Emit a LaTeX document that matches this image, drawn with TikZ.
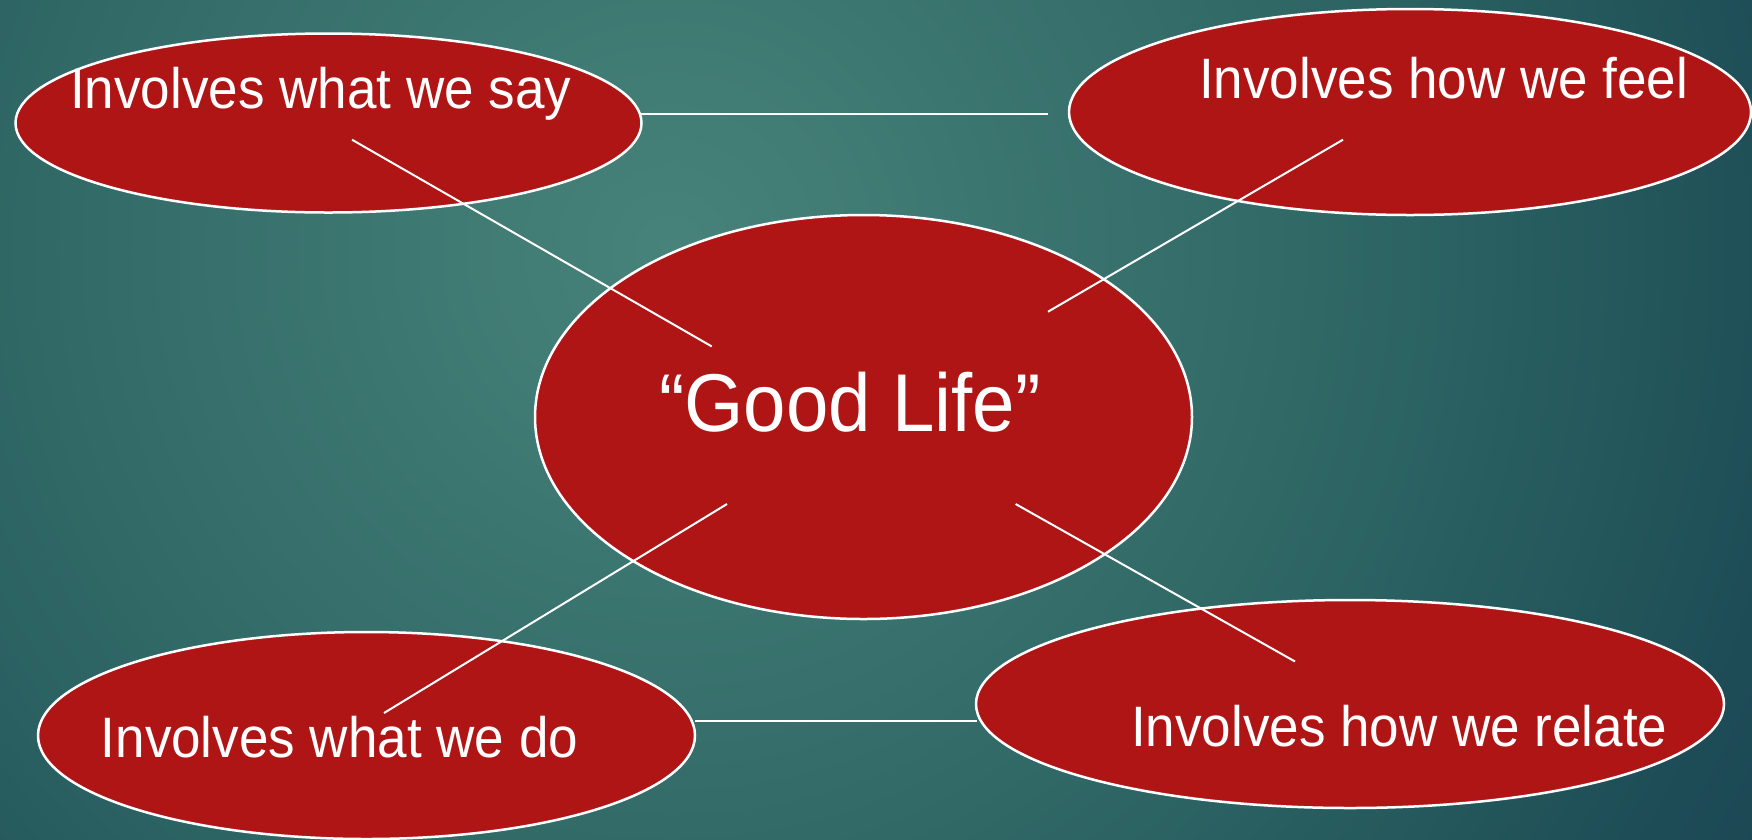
\documentclass[tikz,border=0pt]{standalone}
\usepackage{fontspec}
\setmainfont[FakeStretch=0.93]{Liberation Sans}
\usetikzlibrary{shapes.geometric}
\definecolor{bgA}{HTML}{47837A}
\definecolor{bgB}{HTML}{306866}
\definecolor{bgC}{HTML}{22555A}
\definecolor{bgD}{HTML}{1D4B56}
\definecolor{bgE}{HTML}{163F4C}
\definecolor{ovalred}{HTML}{B01515}
\pgfdeclareradialshading{bgshade}{\pgfpoint{0bp}{0bp}}{color(0bp)=(bgA); color(10.8bp)=(bgB); color(16.7bp)=(bgC); color(19.2bp)=(bgD); color(25bp)=(bgE); color(50bp)=(bgE)}
\tikzset{
  oval/.style={ellipse, draw=white, line width=2.5pt, fill=ovalred, inner sep=0pt},
  link/.style={draw=white, line width=2pt},
  lbl/.style={text=white, inner sep=0pt, anchor=base west, font=\fontsize{57}{60}\selectfont},
  biglbl/.style={text=white, inner sep=0pt, anchor=base west, font=\fontsize{82}{90}\selectfont}
}
\begin{document}
\begin{tikzpicture}[x=1pt,y=-1pt]
\useasboundingbox (0,0) rectangle (1752,839);
\begin{scope}
\clip (0,0) rectangle (1752,839);
\shade[shading=bgshade] (670,250) circle (1500);
\end{scope}
% ellipses
\node[oval, minimum width=626pt, minimum height=179pt] (say) at (328.5,123) {};
\node[oval, minimum width=682pt, minimum height=206pt] (feel) at (1410,112) {};
\node[oval, minimum width=657pt, minimum height=404pt] (good) at (863.5,417) {};
\node[oval, minimum width=657pt, minimum height=207pt] (do) at (366.5,735.5) {};
\node[oval, minimum width=748pt, minimum height=208pt] (relate) at (1350,704) {};
% connector end points
\coordinate (h1a) at (641,114);
\coordinate (h1b) at (1048,114);
\coordinate (h2a) at (695,720.6);
\coordinate (h2b) at (977,720.6);
\coordinate (l1a) at (352,139.7);
\coordinate (l1b) at (711.7,346.4);
\coordinate (l2a) at (1343,139.7);
\coordinate (l2b) at (1048,311.7);
\coordinate (l3a) at (727,504);
\coordinate (l3b) at (384,713);
\coordinate (l4a) at (1015.6,504);
\coordinate (l4b) at (1295,661.5);
% connectors
\draw[link] (h1a) -- (h1b);
\draw[link] (h2a) -- (h2b);
\draw[link] (l1a) -- (l1b);
\draw[link] (l2a) -- (l2b);
\draw[link] (l3a) -- (l3b);
\draw[link] (l4a) -- (l4b);
% labels
\node[lbl] (saytxt) at (70,108) {Involves what we say};
\node[lbl] (feeltxt) at (1199,98) {Involves how we feel};
\node[biglbl] (goodtxt) at (659,431) {“Good Life”};
\node[lbl] (dotxt) at (100.6,757.5) {Involves what we do};
\node[lbl] (relatetxt) at (1131,746) {Involves how we relate};
\end{tikzpicture}
\end{document}
